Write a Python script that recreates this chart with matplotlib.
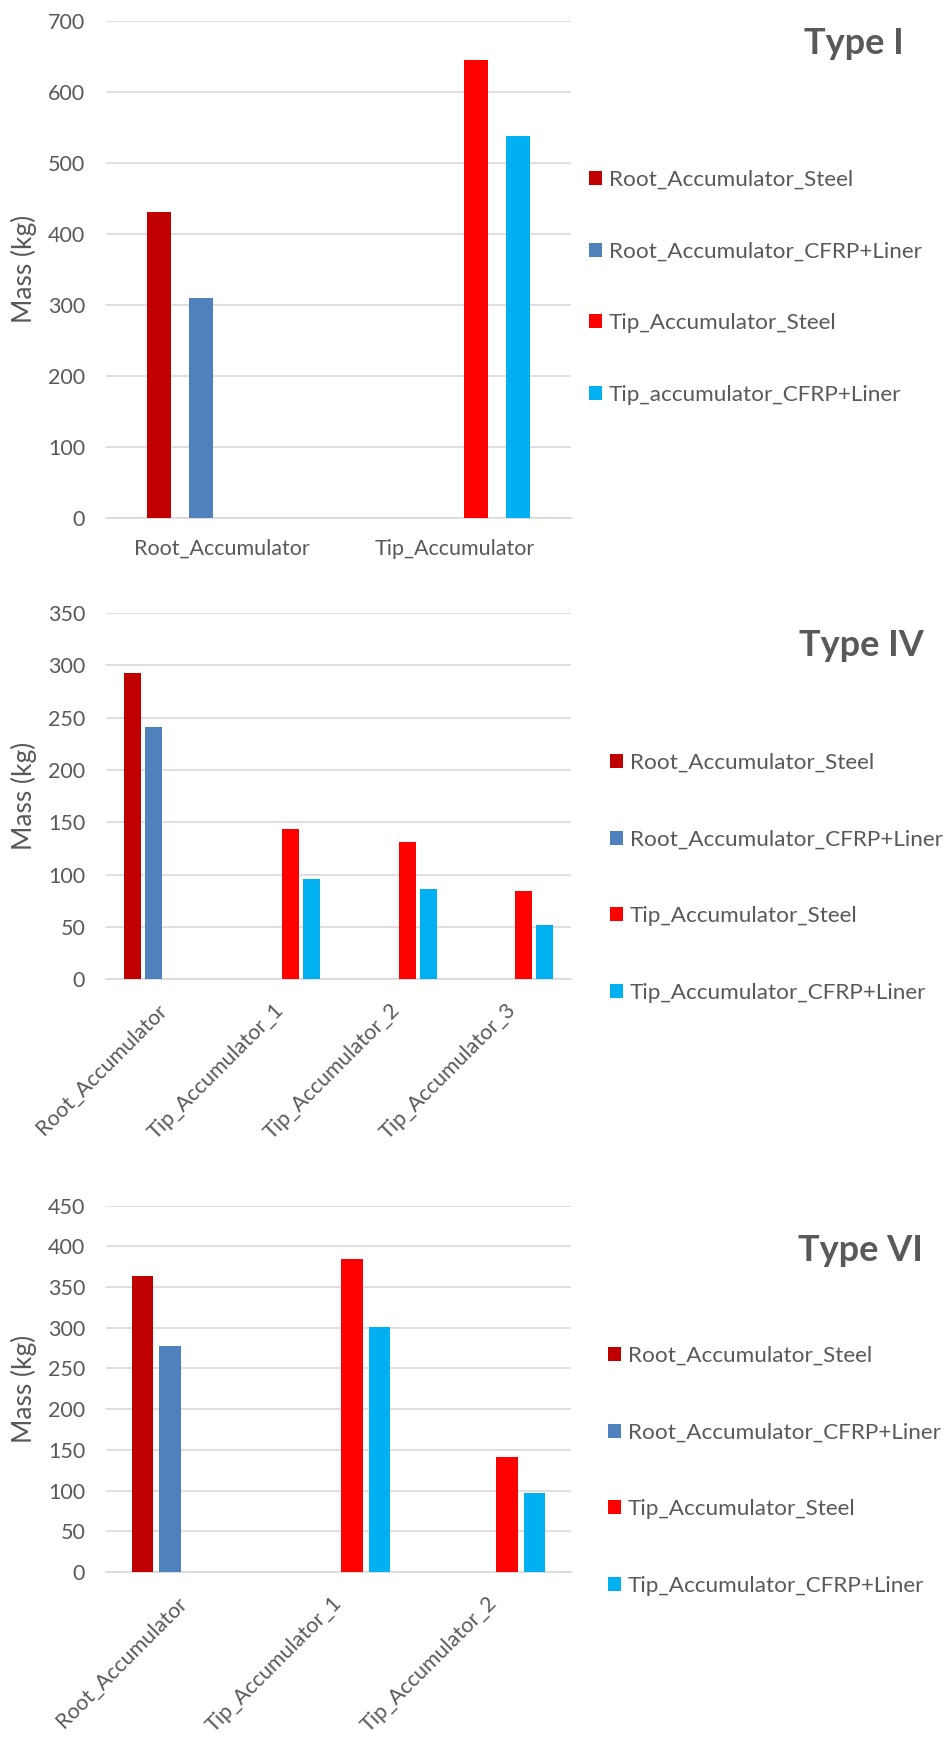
import matplotlib
matplotlib.use("Agg")
import matplotlib.pyplot as plt
import numpy as np

plt.rcParams["font.family"] = ["Lato", "DejaVu Sans"]

TEXT = "#595959"
GRID = "#d9d9d9"
COLORS = ["#C00000", "#4F81BD", "#FF0000", "#00B0F0"]

# Type I
type1_cats = ["Root_Accumulator", "Tip_Accumulator"]
type1_root_steel = [430, 0]
type1_root_cfrp = [310, 0]
type1_tip_steel = [0, 645]
type1_tip_cfrp = [0, 538]
type1_labels = ["Root_Accumulator_Steel", "Root_Accumulator_CFRP+Liner",
                "Tip_Accumulator_Steel", "Tip_accumulator_CFRP+Liner"]

# Type IV
type4_cats = ["Root_Accumulator", "Tip_Accumulator_1", "Tip_Accumulator_2", "Tip_Accumulator_3"]
type4_root_steel = [293, 0, 0, 0]
type4_root_cfrp = [241, 0, 0, 0]
type4_tip_steel = [0, 144, 131, 84]
type4_tip_cfrp = [0, 96, 86, 52]

# Type VI
type6_cats = ["Root_Accumulator", "Tip_Accumulator_1", "Tip_Accumulator_2"]
type6_root_steel = [364, 0, 0]
type6_root_cfrp = [277, 0, 0]
type6_tip_steel = [0, 384, 141]
type6_tip_cfrp = [0, 301, 97]

series_labels = ["Root_Accumulator_Steel", "Root_Accumulator_CFRP+Liner",
                 "Tip_Accumulator_Steel", "Tip_Accumulator_CFRP+Liner"]

W, H = 946, 1742
fig = plt.figure(figsize=(W / 100, H / 100), dpi=100)


def px_axes(left, right, top, bottom):
    return fig.add_axes([left / W, 1 - bottom / H, (right - left) / W, (bottom - top) / H])


def draw_panel(ax, cats, series, labels, ymax, ystep, width, step, rotate,
               title, title_xy, leg_xy, leg_spacing):
    x = np.arange(len(cats))
    handles = []
    for i, (vals, col) in enumerate(zip(series, COLORS)):
        b = ax.bar(x + (i - 1.5) * step, vals, width=width, color=col, zorder=3)
        handles.append(b)
    ax.set_xlim(-0.5, len(cats) - 0.5)
    ax.set_ylim(0, ymax)
    ax.set_yticks(np.arange(0, ymax + 1, ystep))
    ax.yaxis.grid(True, color=GRID, linewidth=1.2, zorder=0)
    ax.set_axisbelow(True)
    for s in ["top", "right", "left"]:
        ax.spines[s].set_visible(False)
    ax.spines["bottom"].set_color(GRID)
    ax.spines["bottom"].set_linewidth(1.2)
    ax.tick_params(axis="both", length=0, labelsize=15.5, labelcolor=TEXT, pad=15)
    ax.set_xticks(x)
    if rotate:
        ax.set_xticklabels(cats, rotation=45, ha="right", va="center", rotation_mode="anchor")
        ax.tick_params(axis="x", pad=20)
    else:
        ax.set_xticklabels(cats)
    ax.set_ylabel("Mass (kg)", fontsize=19, color=TEXT, labelpad=8)
    fig.text(title_xy[0] / W, 1 - title_xy[1] / H, title, ha="center", va="center",
             fontsize=26, fontweight="bold", color=TEXT)
    leg = ax.legend(handles, labels, loc="upper left",
                    bbox_to_anchor=(leg_xy[0] / W, 1 - leg_xy[1] / H),
                    bbox_transform=fig.transFigure, frameon=False, fontsize=16.2,
                    handlelength=0.58, handleheight=0.58, handletextpad=0.31,
                    labelspacing=leg_spacing, borderaxespad=0, borderpad=0)
    for t in leg.get_texts():
        t.set_color(TEXT)


ax1 = px_axes(106, 571, 20.7, 517.7)
draw_panel(ax1, type1_cats,
           [type1_root_steel, type1_root_cfrp, type1_tip_steel, type1_tip_cfrp],
           type1_labels, 700, 100, 0.1056, 0.181, False,
           "Type I", (854, 43), (589, 170), 2.29)

ax2 = px_axes(106, 571, 613, 979.3)
draw_panel(ax2, type4_cats,
           [type4_root_steel, type4_root_cfrp, type4_tip_steel, type4_tip_cfrp],
           series_labels, 350, 50, 0.146, 0.181, True,
           "Type IV", (861, 646), (610, 753), 2.52)

ax3 = px_axes(106, 571, 1205.5, 1572)
draw_panel(ax3, type6_cats,
           [type6_root_steel, type6_root_cfrp, type6_tip_steel, type6_tip_cfrp],
           series_labels, 450, 50, 0.1417, 0.1764, True,
           "Type VI", (860, 1250), (608, 1346), 2.52)

fig.savefig("out.png", dpi=100)
